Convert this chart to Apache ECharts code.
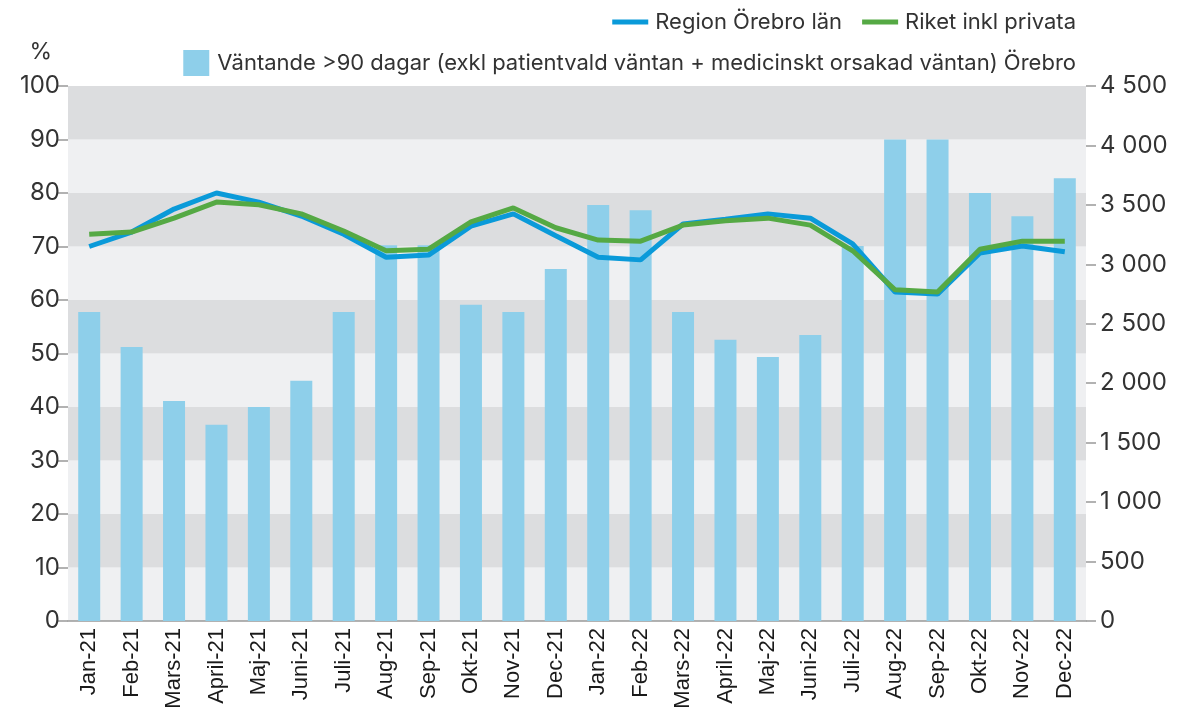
<!DOCTYPE html>
<html>
<head>
<meta charset="utf-8">
<script src="https://cdn.jsdelivr.net/npm/echarts@6/dist/echarts.min.js"></script>
<style>
  html, body { margin: 0; padding: 0; background: #fff; }
  #chart { width: 1177px; height: 713px; }
</style>
</head>
<body>
<div id="chart"></div>
<script>
// månader
var months = ['Jan-21', 'Feb-21', 'Mars-21', 'April-21', 'Maj-21', 'Juni-21', 'Juli-21', 'Aug-21', 'Sep-21', 'Okt-21', 'Nov-21', 'Dec-21',
  'Jan-22', 'Feb-22', 'Mars-22', 'April-22', 'Maj-22', 'Juni-22', 'Juli-22', 'Aug-22', 'Sep-22', 'Okt-22', 'Nov-22', 'Dec-22']

// antal väntande >90 dagar (höger axel)
var waiting = [2600, 2305, 1850, 1650, 1800, 2020, 2600, 3160, 3160, 2660, 2600, 2960,
  3500, 3455, 2600, 2365, 2220, 2405, 3155, 4050, 4050, 3600, 3405, 3725]

// andel i procent (vänster axel)
var orebro = [70.0, 72.7, 77.0, 80.0, 78.3, 75.7, 72.3, 68.0, 68.4, 73.8, 76.1, 72.0,
  68.0, 67.5, 74.2, 75.1, 76.1, 75.3, 70.5, 61.5, 61.1, 68.8, 70.1, 69.0]
var riket = [72.3, 72.7, 75.3, 78.3, 77.8, 76.1, 72.9, 69.2, 69.5, 74.6, 77.2, 73.5,
  71.2, 71.0, 74.0, 74.8, 75.3, 74.0, 69.2, 61.9, 61.5, 69.5, 71.0, 71.0]

var chart = echarts.init(document.getElementById('chart'))

function thousands(v) {
  return String(v).replace(/\B(?=(\d{3})+(?!\d))/g, ' ')
}

chart.setOption({
  animation: false,
  backgroundColor: '#fff',
  textStyle: { fontFamily: 'Inter' },
  grid: { left: 68, right: 91, top: 86, bottom: 92, outerBoundsMode: 'none' },
  legend: [
    {
      data: ['Region Örebro län', 'Riket inkl privata'],
      right: 96,
      top: 6,
      itemWidth: 36,
      itemHeight: 5,
      itemGap: 20,
      icon: 'rect',
      textStyle: { fontFamily: 'Inter', fontSize: 22, color: '#333', padding: [0, 0, 0, 2] }
    },
    {
      data: ['Väntande >90 dagar (exkl patientvald väntan + medicinskt orsakad väntan) Örebro'],
      right: 96,
      top: 45,
      itemWidth: 26,
      itemHeight: 26,
      icon: 'rect',
      textStyle: { fontFamily: 'Inter', fontSize: 22, color: '#333', padding: [0, 0, 0, 3] }
    }
  ],
  xAxis: {
    type: 'category',
    data: months,
    axisLine: { lineStyle: { color: '#999', width: 1.5 } },
    axisTick: { show: false },
    axisLabel: {
      rotate: 90,
      interval: 0,
      hideOverlap: false,
      margin: 7,
      fontFamily: 'Liberation Sans',
      fontSize: 22,
      color: '#1a1a1a'
    }
  },
  yAxis: [
    {
      type: 'value',
      name: '%',
      nameLocation: 'end',
      nameGap: 22,
      nameTextStyle: { fontFamily: 'Inter', fontSize: 23, color: '#333', align: 'right', padding: [0, 16, 0, 0] },
      min: 0,
      max: 100,
      interval: 10,
      axisLine: { show: false },
      axisTick: { show: true, length: 10, lineStyle: { color: '#999', width: 1.5 } },
      axisLabel: { fontFamily: 'Inter', fontSize: 24, color: '#333', margin: 8 },
      splitLine: { show: false },
      splitArea: { show: true, areaStyle: { color: ['#eff0f2', '#dcdddf'] } }
    },
    {
      type: 'value',
      min: 0,
      max: 4500,
      interval: 500,
      position: 'right',
      axisLine: { show: false },
      axisTick: { show: true, length: 10, lineStyle: { color: '#999', width: 1.5 } },
      axisLabel: { fontFamily: 'Inter', fontSize: 24, color: '#333', margin: 14, formatter: thousands },
      splitLine: { show: false },
      splitArea: { show: false }
    }
  ],
  series: [
    {
      name: 'Väntande >90 dagar (exkl patientvald väntan + medicinskt orsakad väntan) Örebro',
      type: 'bar',
      yAxisIndex: 1,
      barWidth: 22,
      itemStyle: { color: '#8ecfea' },
      data: waiting
    },
    {
      name: 'Region Örebro län',
      type: 'line',
      symbol: 'none',
      lineStyle: { width: 5, color: '#0a9ad9' },
      itemStyle: { color: '#0a9ad9' },
      data: orebro
    },
    {
      name: 'Riket inkl privata',
      type: 'line',
      symbol: 'none',
      lineStyle: { width: 5, color: '#55a944' },
      itemStyle: { color: '#55a944' },
      data: riket
    }
  ]
})
</script>
</body>
</html>
